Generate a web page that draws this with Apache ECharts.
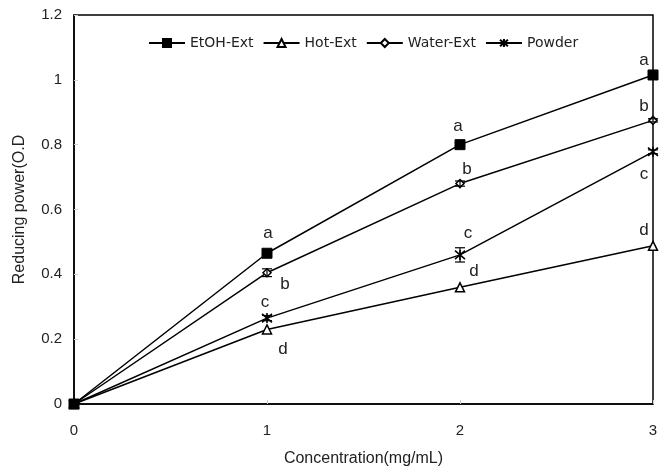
<!DOCTYPE html>
<html>
<head>
<meta charset="utf-8">
<script src="https://cdn.jsdelivr.net/npm/echarts@6/dist/echarts.min.js"></script>
<style>
  html, body { margin: 0; padding: 0; background: #fff; }
  #chart { width: 669px; height: 472px; }
</style>
</head>
<body>
<div id="chart"></div>
<script>
// data
const concentrations = [0, 1, 2, 3];
const etohExt = [0, 0.465, 0.80, 1.015];
const hotExt = [0, 0.23, 0.36, 0.488];
const waterExt = [0, 0.405, 0.68, 0.875];
const powder = [0, 0.265, 0.46, 0.778];

// error bars (only the visible ones)
const waterErr = [0, 0.012, 0.008, 0.005];
const powderErr = [0, 0.008, 0.022, 0.006];

// significance letters per point
const etohLetters = ['', 'a', 'a', 'a'];
const hotLetters = ['', 'd', 'd', 'd'];
const waterLetters = ['', 'b', 'b', 'b'];
const powderLetters = ['', 'c', 'c', 'c'];

// label offsets (px from the point)
const etohOffsets = [null, [1, -20], [-2, -18], [-9, -15]];
const hotOffsets = [null, [16, 20], [14, -16], [-9, -15]];
const waterOffsets = [null, [18, 12], [7, -14], [-9, -14]];
const powderOffsets = [null, [-2, -16], [8, -22], [-9, 23]];

const FONT = 'Liberation Sans';
const asterisk = 'path://M0,0L10,10M10,0L0,10M5,-1L5,11';

function buildData(values, letters, offsets) {
  return values.map((v, i) => {
    const item = { value: [concentrations[i], v] };
    if (letters[i]) {
      item.label = {
        show: true,
        formatter: letters[i],
        position: 'inside',
        offset: offsets[i],
        color: '#222',
        fontSize: 17,
        fontFamily: FONT
      };
    }
    return item;
  });
}

function errorSeries(values, errs) {
  const data = values.map((v, i) => [concentrations[i], v - errs[i], v + errs[i]]);
  return {
    type: 'custom',
    silent: true,
    z: 5,
    renderItem: function (params, api) {
      const lo = api.coord([api.value(0), api.value(1)]);
      const hi = api.coord([api.value(0), api.value(2)]);
      const w = 5;
      const style = { stroke: '#000', lineWidth: 1.2 };
      return {
        type: 'group',
        children: [
          { type: 'line', shape: { x1: lo[0], y1: lo[1], x2: hi[0], y2: hi[1] }, style: style },
          { type: 'line', shape: { x1: lo[0] - w, y1: lo[1], x2: lo[0] + w, y2: lo[1] }, style: style },
          { type: 'line', shape: { x1: hi[0] - w, y1: hi[1], x2: hi[0] + w, y2: hi[1] }, style: style }
        ]
      };
    },
    data: data
  };
}

const chart = echarts.init(document.getElementById('chart'));

const lineStyle = { color: '#000', width: 1.5 };

const option = {
  animation: false,
  backgroundColor: '#fff',
  textStyle: { fontFamily: FONT },
  grid: {
    left: 74, right: 16, top: 15, bottom: 66,
    show: true,
    borderColor: '#000',
    borderWidth: 1.5
  },
  legend: {
    left: 143,
    top: 31,
    itemWidth: 36,
    itemHeight: 10,
    itemGap: 9,
    textStyle: { fontSize: 14, color: '#222', fontFamily: 'DejaVu Sans' },
    data: ['EtOH-Ext', 'Hot-Ext', 'Water-Ext', 'Powder']
  },
  xAxis: {
    type: 'value',
    min: 0, max: 3, interval: 1,
    name: 'Concentration(mg/mL)',
    nameLocation: 'middle',
    nameGap: 47,
    nameTextStyle: { fontSize: 16, color: '#222', fontFamily: FONT },
    axisLine: { lineStyle: { color: '#000', width: 1.5 } },
    axisTick: { inside: true, length: 4, lineStyle: { color: '#ccc' } },
    axisLabel: { fontSize: 15, color: '#222', margin: 19 },
    splitLine: { show: false }
  },
  yAxis: {
    type: 'value',
    min: 0, max: 1.2, interval: 0.2,
    name: 'Reducing power(O.D',
    nameLocation: 'middle',
    nameGap: 46,
    nameTextStyle: { fontSize: 16, color: '#222', fontFamily: FONT },
    axisLine: { show: true, lineStyle: { color: '#000', width: 1.5 } },
    axisTick: { show: true, inside: true, length: 4, lineStyle: { color: '#ccc' } },
    axisLabel: { fontSize: 15, color: '#222', margin: 12 },
    splitLine: { show: false }
  },
  series: [
    {
      name: 'Hot-Ext',
      type: 'line',
      symbol: 'triangle',
      symbolSize: 9,
      lineStyle: lineStyle,
      itemStyle: { color: '#fff', borderColor: '#000', borderWidth: 1.5 },
      data: buildData(hotExt, hotLetters, hotOffsets),
      z: 3
    },
    {
      name: 'Water-Ext',
      type: 'line',
      symbol: 'diamond',
      symbolSize: 8,
      lineStyle: lineStyle,
      itemStyle: { color: '#fff', borderColor: '#000', borderWidth: 1.5 },
      data: buildData(waterExt, waterLetters, waterOffsets),
      z: 3
    },
    {
      name: 'Powder',
      type: 'line',
      symbol: asterisk,
      symbolSize: 10,
      lineStyle: lineStyle,
      itemStyle: { color: '#000', borderColor: '#000', borderWidth: 1.6 },
      data: buildData(powder, powderLetters, powderOffsets),
      z: 3
    },
    {
      name: 'EtOH-Ext',
      type: 'line',
      symbol: 'rect',
      symbolSize: 10,
      lineStyle: lineStyle,
      itemStyle: { color: '#000', borderColor: '#000', borderWidth: 1 },
      data: buildData(etohExt, etohLetters, etohOffsets),
      z: 4
    },
    errorSeries(waterExt, waterErr),
    errorSeries(powder, powderErr)
  ]
};

chart.setOption(option);
</script>
</body>
</html>
